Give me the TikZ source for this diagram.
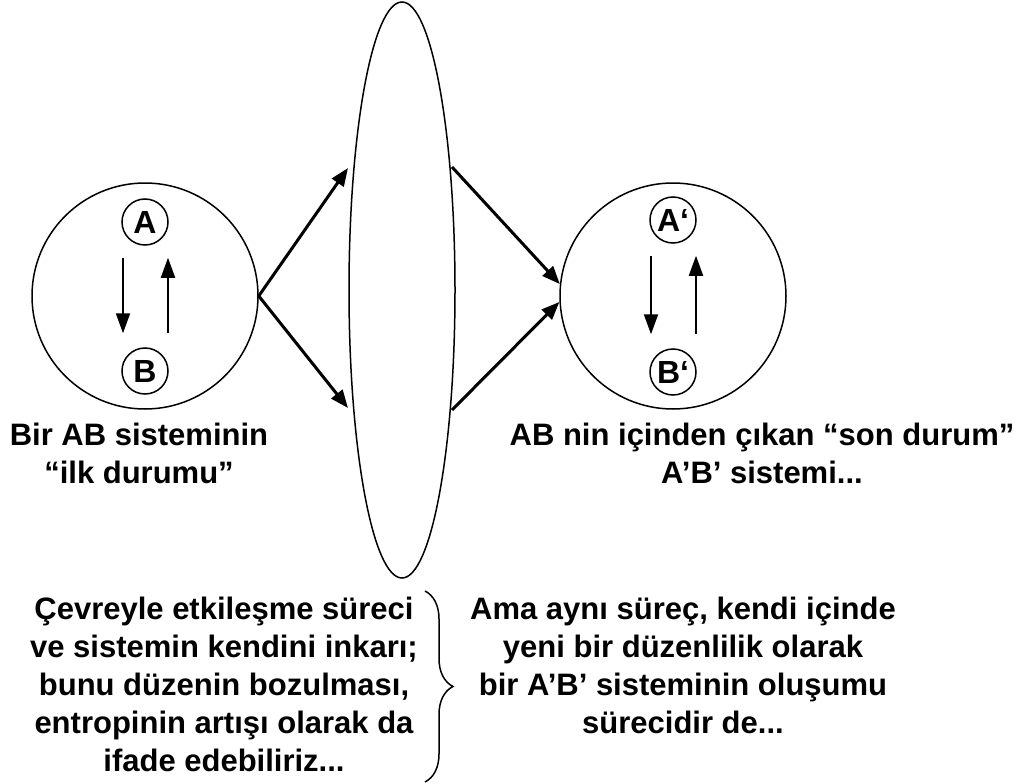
\documentclass[tikz,border=0pt]{standalone}
\usepackage{fontspec}
\setmainfont{Liberation Sans}
\usetikzlibrary{arrows.meta,shapes.geometric,decorations.pathreplacing}
\tikzset{
  sys/.style={circle,draw,line width=1.5pt,minimum size=226pt,inner sep=0pt},
  state/.style={circle,draw,line width=1.5pt,minimum size=46pt,inner sep=0pt,
    font=\fontsize{32}{34}\selectfont\bfseries},
  words/.style={align=center,font=\fontsize{31}{38}\selectfont\bfseries},
  flow/.style={line width=3pt,-{Triangle[length=18pt,width=14pt]}},
  turn/.style={line width=2pt,-{Triangle[length=20pt,width=14pt]}}
}
\begin{document}
\begin{tikzpicture}[x=1pt,y=-1pt]
  \useasboundingbox (0,0) rectangle (1029,784);
  \node[sys] (ab) at (145,296) {};
  \node[state] (a) at (145,222) {A};
  \node[state] (b) at (145,371) {B};
  \node[sys] (ab2) at (673,296) {};
  \node[state] (a2) at (673,220) {A‘};
  \node[state] (b2) at (673,372) {B‘};
  \node[ellipse,draw,line width=1.5pt,minimum width=106pt,minimum height=576pt,
    inner sep=0pt] (env) at (402,290) {};

  \foreach \p/\q in {a/b,a2/b2}{
    \draw[turn] ([xshift=-22pt,yshift=-12pt]\p.south) -- ([xshift=-22pt,yshift=14pt]\q.north);
    \draw[turn] ([xshift=23pt,yshift=14pt]\q.north) -- ([xshift=23pt,yshift=-12pt]\p.south);
  }

  \coordinate (in1) at (348,168);
  \coordinate (in2) at (348,408);
  \coordinate (out1) at (452,167);
  \coordinate (out2) at (452,410);
  \draw[flow] (ab.east) -- (in1);
  \draw[flow] (ab.east) -- (in2);
  \draw[flow] (out1) -- (ab2.174);
  \draw[flow] (out2) -- (ab2.183);

  \node[words] (first) at (139,453) {Bir AB sisteminin\\“ilk durumu”};
  \node[words] (last) at (762,453) {AB nin içinden çıkan “son durum”\\A’B’ sistemi...};
  \node[words] (loss) at (224,684) {Çevreyle etkileşme süreci\\ve sistemin kendini inkarı;\\bunu düzenin bozulması,\\entropinin artışı olarak da\\ifade edebiliriz...};
  \node[words] (gain) at (683,665) {Ama aynı süreç, kendi içinde\\yeni bir düzenlilik olarak\\bir A’B’ sisteminin oluşumu\\sürecidir de...};

  \coordinate (top) at (425,591);
  \coordinate (bottom) at (425,782);
  \draw[line width=1.5pt,decorate,decoration={brace,amplitude=28pt}] (top) -- (bottom);
\end{tikzpicture}
\end{document}
